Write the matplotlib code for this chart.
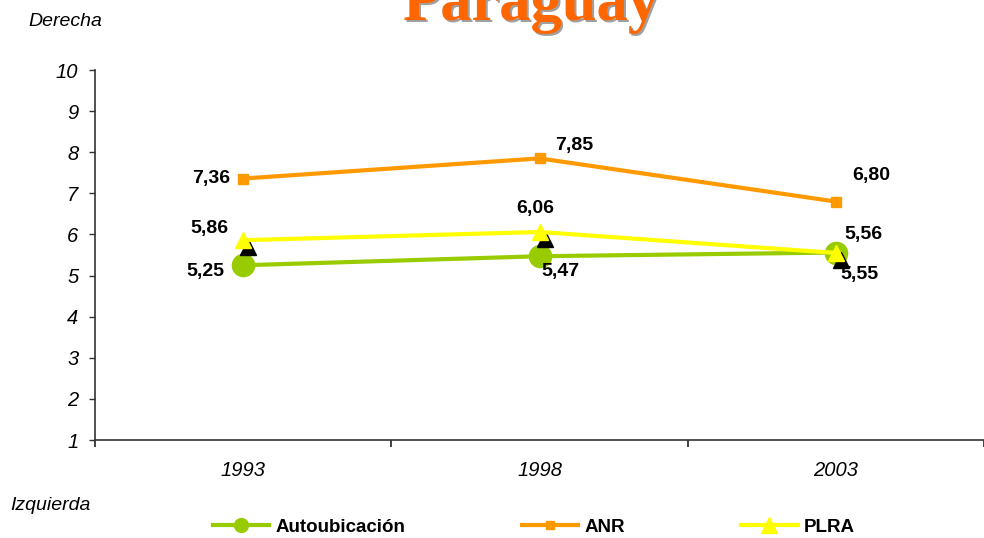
import matplotlib
matplotlib.use("Agg")
import matplotlib.pyplot as plt
from matplotlib.lines import Line2D
from matplotlib import transforms

years = ["1993", "1998", "2003"]
autoubicacion = [5.25, 5.47, 5.56]
anr = [7.36, 7.85, 6.80]
plra = [5.86, 6.06, 5.55]
yticks = [1, 2, 3, 4, 5, 6, 7, 8, 9, 10]

GREEN = "#99CC00"
ORANGE = "#FF9900"
YELLOW = "#FFFF00"

W, H = 984, 538
fig = plt.figure(figsize=(W / 100, H / 100), dpi=100)
plt.rcParams["font.family"] = ["Liberation Sans", "DejaVu Sans"]

ax = fig.add_axes([95 / W, 1 - 440 / H, (984 - 95) / W, (440 - 70) / H])
x = list(range(len(years)))

ax.plot(x, autoubicacion, color=GREEN, lw=3, marker="o", ms=16, zorder=3)
ax.plot(x, anr, color=ORANGE, lw=3, marker="s", ms=7, zorder=3)
shadow = transforms.offset_copy(ax.transData, fig=fig, x=5, y=-7, units="dots")
ax.plot(x, plra, ls="none", marker="^", ms=12, color="black", transform=shadow, zorder=4)
ax.plot(x, plra, color=YELLOW, lw=3, marker="^", ms=12, zorder=5)

ax.set_xlim(-0.5, 2.493)
ax.set_ylim(1, 10)
ax.set_yticks(yticks)
ax.set_yticklabels([str(v) for v in yticks], fontsize=14.5, fontstyle="italic")
ax.set_xticks([-0.5, 0.5, 1.5, 2.5])
ax.set_xticklabels([])
ax.set_xticks(x, minor=True)
ax.set_xticklabels(years, minor=True, fontsize=14.5, fontstyle="italic")
ax.tick_params(axis="x", which="minor", length=0, pad=15)
ax.tick_params(axis="x", which="major", length=5, width=1.3, color="#333333")
ax.tick_params(axis="y", length=4, width=1, pad=8, color="#333333")
for s in ["top", "right"]:
    ax.spines[s].set_visible(False)
for s in ["left", "bottom"]:
    ax.spines[s].set_color("#333333")
    ax.spines[s].set_linewidth(1.2)
ax.spines["bottom"].set_zorder(1)

def fmt(v):
    return f"{v:.2f}".replace(".", ",")

def label(i, v, dx, dy, ha):
    ax.annotate(fmt(v), (i, v), xytext=(dx * 0.72, -dy * 0.72), textcoords="offset points",
                ha=ha, va="center", fontsize=14, fontweight="bold", zorder=6)

# ANR labels
label(0, anr[0], -13, 0, "right")
label(1, anr[1], 16, -13, "left")
label(2, anr[2], 16, -26, "left")
# PLRA labels
label(0, plra[0], -15, -12, "right")
label(1, plra[1], -4, -23, "center")
label(2, plra[2], 5, 22, "left")
# Autoubicacion labels
label(0, autoubicacion[0], -19, 6, "right")
label(1, autoubicacion[1], 2, 15, "left")
label(2, autoubicacion[2], 9, -18, "left")

# Side labels
fig.text(65 / W, 1 - 22 / H, "Derecha", fontsize=14, fontstyle="italic", ha="center", va="center")
fig.text(50 / W, 1 - 505 / H, "Izquierda", fontsize=14, fontstyle="italic", ha="center", va="center")

# Title with shadow
tx, ty = 531 / W, 1 - 20 / H
fig.text(tx + 2.5 / W, ty - 2.5 / H, "Paraguay", fontsize=45, fontweight="bold",
         family="Liberation Serif", color="#A0A0A0", ha="center", va="baseline")
fig.text(tx, ty, "Paraguay", fontsize=45, fontweight="bold",
         family="Liberation Serif", color="#FF6600", ha="center", va="baseline")

handles = [
    Line2D([], [], color=GREEN, lw=3, marker="o", ms=10),
    Line2D([], [], color=ORANGE, lw=3, marker="s", ms=6),
    Line2D([], [], color=YELLOW, lw=3, marker="^", ms=11),
]
fig.legend(handles, ["Autoubicación", "ANR", "PLRA"], loc="center",
           bbox_to_anchor=(534 / W, 1 - 527 / H), ncol=3, frameon=False,
           handlelength=3.0, handletextpad=0.35, columnspacing=6.2,
           prop={"weight": "bold", "size": 13.5})

fig.savefig("out.png", dpi=100)
